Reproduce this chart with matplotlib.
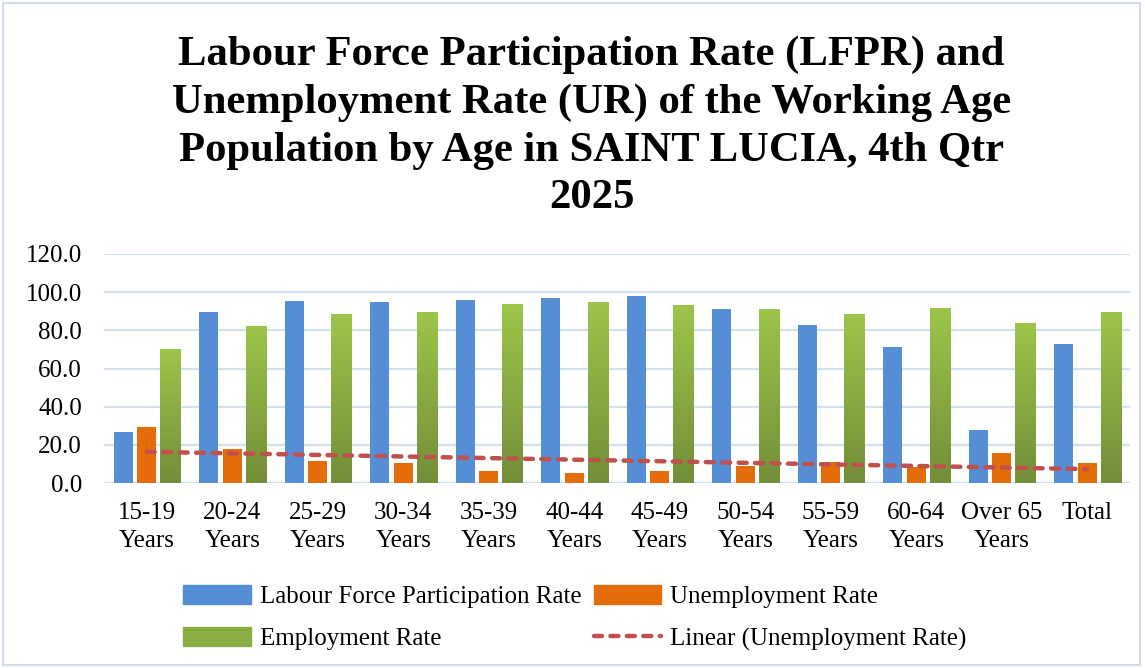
import numpy as np
import matplotlib
matplotlib.use('Agg')
import matplotlib.pyplot as plt
from matplotlib.colors import LinearSegmentedColormap
from matplotlib.patches import Patch, Rectangle
from matplotlib.lines import Line2D

# data
age_groups = ['15-19\nYears', '20-24\nYears', '25-29\nYears', '30-34\nYears', '35-39\nYears',
              '40-44\nYears', '45-49\nYears', '50-54\nYears', '55-59\nYears', '60-64\nYears',
              'Over 65\nYears', 'Total']
lfpr = [26.8, 89.5, 95.3, 94.7, 95.8, 97.2, 97.9, 91.4, 82.8, 71.5, 27.8, 72.9]
unemp = [29.6, 17.7, 11.6, 10.3, 6.1, 5.3, 6.5, 8.9, 11.2, 8.2, 15.9, 10.5]
emp = [70.0, 82.1, 88.4, 89.5, 93.7, 94.7, 93.2, 91.1, 88.4, 91.6, 83.7, 89.5]

blue = '#558ED5'
orange = '#E46C0A'
green_top = '#9DC54A'
green_bot = '#728E38'
trend_col = '#C0504D'
grid_col = '#D5E0EF'

serif = ['Liberation Serif', 'DejaVu Serif']

fig = plt.figure(figsize=(11.45, 6.68), dpi=100)
ax = fig.add_axes([104/1145, 1 - 483/668, (1130-104)/1145, (483-254)/668])

x = np.arange(len(age_groups))
w = 0.225
off = 0.275

ax.bar(x - off, lfpr, w, color=blue, zorder=3)
ax.bar(x, unemp, w, color=orange, zorder=3)

# green bars with vertical gradient (dark at the bottom, light at the top)
cmap = LinearSegmentedColormap.from_list('g', [green_bot, green_top])
grad = np.linspace(0, 1, 256).reshape(-1, 1)
gw = 0.24
for xi, v in zip(x, emp):
    ax.imshow(grad, extent=[xi + off - gw/2, xi + off + gw/2, 0, v],
              origin='lower', aspect='auto', cmap=cmap, zorder=3, vmin=0, vmax=1)

# linear trendline of unemployment rate
k, b = np.polyfit(x + 1, unemp, 1)
ax.plot(x, k * (x + 1) + b, color=trend_col, lw=3.2, ls=(0, (1.8, 1.9)),
        zorder=4, dash_capstyle='round')

ax.set_xlim(-0.5, len(age_groups) - 0.5)
ax.set_ylim(0, 120)
ax.set_yticks(np.arange(0, 121, 20))
ax.set_yticklabels([f'{v:.1f}' for v in np.arange(0, 121, 20)])
ax.set_xticks(x)
ax.set_xticklabels(age_groups, linespacing=1.3)
for sp in ax.spines.values():
    sp.set_visible(False)
ax.grid(axis='y', color=grid_col, lw=1.6, zorder=0)
ax.axhline(0, color=grid_col, lw=1.6, zorder=2)
ax.tick_params(length=0, labelsize=18)
ax.tick_params(axis='y', pad=16)
ax.tick_params(axis='x', pad=14)
for lab in ax.get_xticklabels() + ax.get_yticklabels():
    lab.set_family(serif)
ax.set_axisbelow(True)

fig.text(0.5166, 0.947,
         'Labour Force Participation Rate (LFPR) and\nUnemployment Rate (UR) of the Working Age\n'
         'Population by Age in SAINT LUCIA, 4th Qtr\n2025',
         ha='center', va='top', fontsize=30.7, fontweight='bold', family=serif,
         linespacing=1.33)

handles = [Patch(color=blue), Patch(color='#8AAE44'), Patch(color=orange),
           Line2D([0], [0], color=trend_col, lw=3.2, ls=(0, (1.8, 1.9)), dash_capstyle='round')]
labels = ['Labour Force Participation Rate', 'Employment Rate', 'Unemployment Rate',
          'Linear (Unemployment Rate)']
leg = fig.legend(handles, labels, ncol=2, loc='center', bbox_to_anchor=(0.502, 0.075),
                 frameon=False, prop={'family': serif, 'size': 18},
                 handlelength=2.7, handleheight=0.8, labelspacing=0.75,
                 columnspacing=0.5, handletextpad=0.35)

fig.patches.append(Rectangle((0.003, 0.004), 0.993, 0.992, transform=fig.transFigure,
                             fill=False, edgecolor='#D3DCE8', lw=1.5))

fig.savefig('out.png', dpi=100)
